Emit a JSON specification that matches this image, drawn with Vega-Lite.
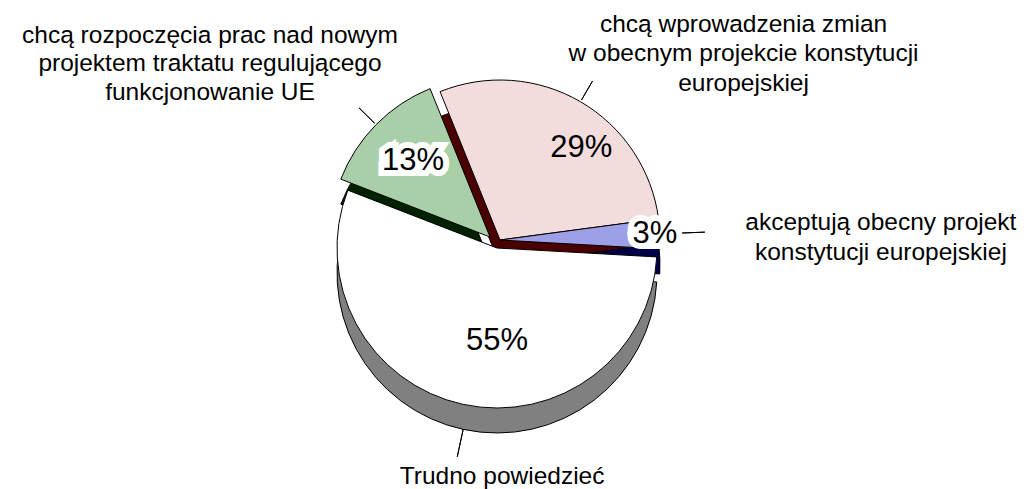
{
  "$schema": "https://vega.github.io/schema/vega-lite/v6.json",
  "width": 1000,
  "height": 480,
  "autosize": "none",
  "padding": {"left": 0, "top": 0, "right": 30, "bottom": 9},
  "background": "white",
  "data": {
    "values": [
      {"k": 1, "value": 29, "pct": "29%", "label": "chcą wprowadzenia zmian\nw obecnym projekcie konstytucji\neuropejskiej"},
      {"k": 2, "value": 3, "pct": "3%", "label": "akceptują obecny projekt\nkonstytucji europejskiej"},
      {"k": 3, "value": 55, "pct": "55%", "label": "Trudno powiedzieć"},
      {"k": 4, "value": 13, "pct": "13%", "label": "chcą rozpoczęcia prac nad nowym\nprojektem traktatu regulującego\nfunkcjonowanie UE"}
    ]
  },
  "encoding": {
    "theta": {"field": "value", "type": "quantitative", "stack": true, "scale": {"range": [-0.384, 5.8992]}},
    "order": {"field": "k", "type": "quantitative"},
    "detail": {"field": "k", "type": "nominal"}
  },
  "layer": [
    {
      "mark": {"type": "arc", "outerRadius": 160, "xOffset": 0, "yOffset": 25, "stroke": "black", "strokeWidth": 1},
      "encoding": {
        "color": {"field": "k", "type": "nominal", "legend": null, "scale": {"domain": [1, 2, 3, 4], "range": ["#4a0000", "#000048", "#808080", "#002200"]}},
        "opacity": {"condition": {"test": "datum.k === 1 || datum.k === 2", "value": 1}, "value": 0}
      }
    },
    {
      "mark": {"type": "arc", "outerRadius": 160, "xOffset": -10, "yOffset": 22, "stroke": "black", "strokeWidth": 1},
      "encoding": {
        "color": {"field": "k", "type": "nominal", "legend": null, "scale": {"domain": [1, 2, 3, 4], "range": ["#4a0000", "#000048", "#808080", "#002200"]}},
        "opacity": {"condition": {"test": "datum.k === 4", "value": 1}, "value": 0}
      }
    },
    {
      "mark": {"type": "arc", "outerRadius": 160, "xOffset": -3, "yOffset": 33, "stroke": "black", "strokeWidth": 1},
      "encoding": {
        "color": {"field": "k", "type": "nominal", "legend": null, "scale": {"domain": [1, 2, 3, 4], "range": ["#4a0000", "#000048", "#808080", "#002200"]}},
        "opacity": {"condition": {"test": "datum.k === 3", "value": 1}, "value": 0}
      }
    },
    {
      "mark": {"type": "arc", "outerRadius": 160, "xOffset": 0, "yOffset": 0, "stroke": "black", "strokeWidth": 1},
      "encoding": {
        "color": {"field": "k", "type": "nominal", "legend": null, "scale": {"domain": [1, 2, 3, 4], "range": ["#f2dcdc", "#9da0e6", "#ffffff", "#a9cfa9"]}},
        "opacity": {"condition": {"test": "datum.k === 1 || datum.k === 2", "value": 1}, "value": 0}
      }
    },
    {
      "mark": {"type": "arc", "outerRadius": 160, "xOffset": -10, "yOffset": -3, "stroke": "black", "strokeWidth": 1},
      "encoding": {
        "color": {"field": "k", "type": "nominal", "legend": null, "scale": {"domain": [1, 2, 3, 4], "range": ["#f2dcdc", "#9da0e6", "#ffffff", "#a9cfa9"]}},
        "opacity": {"condition": {"test": "datum.k === 4", "value": 1}, "value": 0}
      }
    },
    {
      "mark": {"type": "arc", "outerRadius": 160, "xOffset": -3, "yOffset": 8, "stroke": "black", "strokeWidth": 1},
      "encoding": {
        "color": {"field": "k", "type": "nominal", "legend": null, "scale": {"domain": [1, 2, 3, 4], "range": ["#f2dcdc", "#9da0e6", "#ffffff", "#a9cfa9"]}},
        "opacity": {"condition": {"test": "datum.k === 3", "value": 1}, "value": 0}
      }
    },
    {
      "mark": {"type": "arc", "innerRadius": 162, "outerRadius": 184, "padAngle": 3, "fill": "white", "fillOpacity": 0, "stroke": "black", "strokeWidth": 1},
      "encoding": {"strokeOpacity": {"condition": {"test": "datum.k === 1", "value": 1}, "value": 0}}
    },
    {
      "mark": {"type": "arc", "innerRadius": 162, "outerRadius": 205, "padAngle": 3, "fill": "white", "fillOpacity": 0, "stroke": "black", "strokeWidth": 1},
      "encoding": {"strokeOpacity": {"condition": {"test": "datum.k === 2", "value": 1}, "value": 0}}
    },
    {
      "mark": {"type": "arc", "innerRadius": 162, "outerRadius": 184, "padAngle": 3, "xOffset": -10, "yOffset": -3, "fill": "white", "fillOpacity": 0, "stroke": "black", "strokeWidth": 1},
      "encoding": {"strokeOpacity": {"condition": {"test": "datum.k === 4", "value": 1}, "value": 0}}
    },
    {
      "mark": {"type": "arc", "innerRadius": 160, "outerRadius": 188, "padAngle": 3, "xOffset": -3, "yOffset": 33, "fill": "white", "fillOpacity": 0, "stroke": "black", "strokeWidth": 1},
      "encoding": {
        "theta": {"field": "value", "type": "quantitative", "stack": true, "scale": {"domain": [0, 200], "range": [1.4853, 7.7685]}},
        "strokeOpacity": {"condition": {"test": "datum.k === 3", "value": 1}, "value": 0}
      }
    },
    {
      "mark": {"type": "text", "radius": 112, "dx": 25, "dy": 5, "font": "Liberation Sans", "fontSize": 31, "align": "center", "baseline": "middle", "fill": "black"},
      "encoding": {"text": {"condition": {"test": "datum.k === 1", "field": "pct"}, "value": ""}}
    },
    {
      "mark": {"type": "text", "radius": 150, "dx": 5, "dy": 0, "font": "Liberation Sans", "fontSize": 31, "align": "center", "baseline": "middle", "fill": "white", "stroke": "white", "strokeWidth": 12, "strokeJoin": "miter"},
      "encoding": {"text": {"condition": {"test": "datum.k === 2", "field": "pct"}, "value": ""}}
    },
    {
      "mark": {"type": "text", "radius": 150, "dx": 5, "dy": 0, "font": "Liberation Sans", "fontSize": 31, "align": "center", "baseline": "middle", "fill": "black"},
      "encoding": {"text": {"condition": {"test": "datum.k === 2", "field": "pct"}, "value": ""}}
    },
    {
      "mark": {"type": "text", "radius": 95, "dx": 17, "dy": 8, "font": "Liberation Sans", "fontSize": 31, "align": "center", "baseline": "middle", "fill": "black"},
      "encoding": {"text": {"condition": {"test": "datum.k === 3", "field": "pct"}, "value": ""}}
    },
    {
      "mark": {"type": "text", "radius": 108, "dx": -10, "dy": -3, "font": "Liberation Sans", "fontSize": 31, "align": "center", "baseline": "middle", "fill": "white", "stroke": "white", "strokeWidth": 12, "strokeJoin": "miter"},
      "encoding": {"text": {"condition": {"test": "datum.k === 4", "field": "pct"}, "value": ""}}
    },
    {
      "mark": {"type": "text", "radius": 108, "dx": -10, "dy": -3, "font": "Liberation Sans", "fontSize": 31, "align": "center", "baseline": "middle", "fill": "black"},
      "encoding": {"text": {"condition": {"test": "datum.k === 4", "field": "pct"}, "value": ""}}
    },
    {
      "mark": {"type": "text", "radius": 184, "font": "Liberation Sans", "fontSize": 24.5, "lineHeight": 29.5, "lineBreak": "\n", "align": "center", "baseline": "alphabetic", "fill": "black", "dx": 151, "dy": -49},
      "encoding": {"text": {"condition": {"test": "datum.k === 1", "field": "label"}, "value": ""}}
    },
    {
      "mark": {"type": "text", "radius": 184, "font": "Liberation Sans", "fontSize": 24.5, "lineHeight": 30, "lineBreak": "\n", "align": "center", "baseline": "alphabetic", "fill": "black", "dx": 197, "dy": -3},
      "encoding": {"text": {"condition": {"test": "datum.k === 2", "field": "label"}, "value": ""}}
    },
    {
      "mark": {"type": "text", "radius": 184, "font": "Liberation Sans", "fontSize": 24.5, "lineHeight": 29, "lineBreak": "\n", "align": "center", "baseline": "alphabetic", "fill": "black", "dx": 41, "dy": 64},
      "encoding": {"text": {"condition": {"test": "datum.k === 3", "field": "label"}, "value": ""}}
    },
    {
      "mark": {"type": "text", "radius": 184, "font": "Liberation Sans", "fontSize": 24.5, "lineHeight": 28.5, "lineBreak": "\n", "align": "center", "baseline": "alphabetic", "fill": "black", "dx": -159, "dy": -68},
      "encoding": {"text": {"condition": {"test": "datum.k === 4", "field": "label"}, "value": ""}}
    }
  ],
  "resolve": {"scale": {"color": "independent", "theta": "independent"}},
  "config": {"view": {"stroke": null}}
}
